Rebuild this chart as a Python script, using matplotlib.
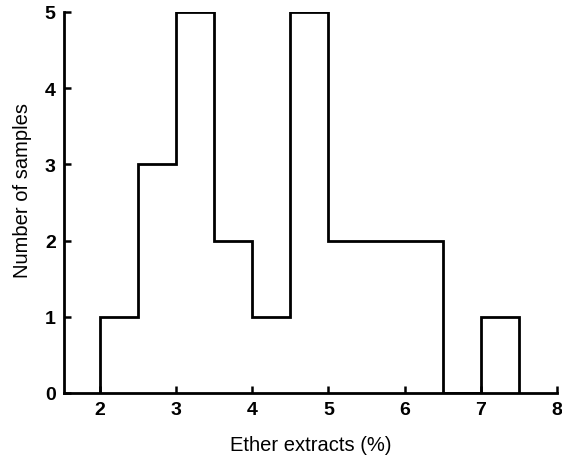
import matplotlib
matplotlib.use("Agg")
import matplotlib.pyplot as plt
import numpy as np

bin_edges = [2.0, 2.5, 3.0, 3.5, 4.0, 4.5, 5.0, 5.5, 6.0, 6.5, 7.0, 7.5]
counts = [1, 3, 5, 2, 1, 5, 2, 2, 2, 0, 1]
x_ticks = [2, 3, 4, 5, 6, 7, 8]
y_ticks = [0, 1, 2, 3, 4, 5]

plt.rcParams["font.family"] = ["Liberation Sans", "DejaVu Sans"]

fig = plt.figure(figsize=(5.62, 4.6), dpi=100)
ax = fig.add_axes([0.114, 0.1435, 0.877, 0.8285])

ax.stairs(counts, bin_edges, baseline=0, fill=False, color="black", linewidth=2.0)

ax.set_xlim(1.53, 8.0)
ax.set_ylim(0, 5)
ax.set_xticks(x_ticks)
ax.set_yticks(y_ticks)
for s in ("top", "right"):
    ax.spines[s].set_visible(False)
for s in ("left", "bottom"):
    ax.spines[s].set_linewidth(2.0)
ax.tick_params(direction="in", length=5, width=1.8, labelsize=14, pad=6)
for lbl in ax.get_xticklabels() + ax.get_yticklabels():
    lbl.set_fontweight("bold")

ax.set_xlabel("Ether extracts (%)", fontsize=14.5, labelpad=12)
ax.set_ylabel("Number of samples", fontsize=14.5)
ax.yaxis.set_label_coords(-0.066, 0.533)

fig.savefig("out.png", dpi=100)
